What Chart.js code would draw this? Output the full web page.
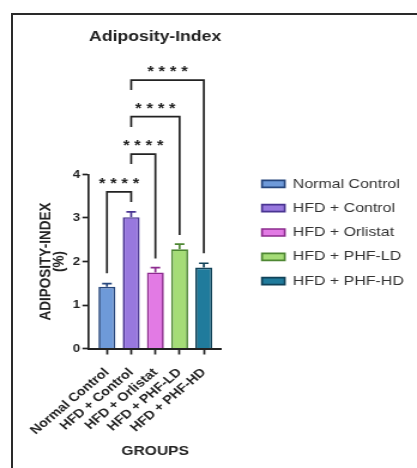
<!DOCTYPE html>
<html>
<head>
<meta charset="utf-8">
<script src="https://cdn.jsdelivr.net/npm/chart.js@4.4.1/dist/chart.umd.min.js"></script>
<style>
    html, body { margin: 0; padding: 0; background: #fff; }
    #wrap { position: relative; width: 417px; height: 468px; overflow: hidden; }
    #frame {
        position: absolute; left: 11px; top: 13px; width: 430px; height: 480px;
        border-left: 2px solid #2a2a2a; border-top: 2px solid #2a2a2a; pointer-events: none;
    }
    #adiposityChart { position: absolute; left: 0; top: 0; }
</style>
</head>
<body>
<div id="wrap">
    <!-- the figure is drawn narrower and shown stretched, like the source image -->
    <canvas id="adiposityChart" width="348" height="468" style="width: 417px; height: 468px;"></canvas>
    <div id="frame"></div>
</div>
<script>
// groups and values
const groups = ['Normal Control', 'HFD + Control', 'HFD + Orlistat', 'HFD + PHF-LD', 'HFD + PHF-HD'];
const means = [1.42, 3.02, 1.75, 2.28, 1.86];
const sems = [0.07, 0.12, 0.11, 0.12, 0.10];
const yTicks = [0, 1, 2, 3, 4];

const fills = ['#6e9ad9', '#9878de', '#e27ae4', '#a5dc77', '#207b9c'];
const edges = ['#27477d', '#4a3592', '#8d2c8f', '#4e8733', '#114258'];

// significance brackets (group indexes, y levels in % units)
const pairs = [[0, 1], [1, 2], [1, 3], [1, 4]];
const pairLevel = [3.60, 4.47, 5.33, 6.17];
const pairLeftEnd = [1.73, 4.24, 5.09, 5.94];
const pairRightEnd = [3.37, 2.07, 2.61, 2.19];
const pairStars = ['****', '****', '****', '****'];

const ink = '#222';
Chart.defaults.font.family = '"Liberation Sans", Arial, sans-serif';
Chart.defaults.color = ink;

const errorBars = {
    id: 'errorBars',
    afterDatasetsDraw(chart) {
        const {ctx, scales: {x, y}} = chart;
        ctx.save();
        ctx.lineWidth = 1.7;
        means.forEach((m, i) => {
            const px = x.getPixelForValue(i);
            const top = y.getPixelForValue(m + sems[i]);
            ctx.strokeStyle = edges[i];
            ctx.beginPath();
            ctx.moveTo(px, y.getPixelForValue(m));
            ctx.lineTo(px, top);
            ctx.moveTo(px - 4, top);
            ctx.lineTo(px + 4, top);
            ctx.stroke();
        });
        ctx.restore();
    },
};

const brackets = {
    id: 'brackets',
    afterDraw(chart) {
        const {ctx, scales: {x, y}} = chart;
        ctx.save();
        ctx.strokeStyle = ink;
        ctx.fillStyle = ink;
        ctx.lineWidth = 1.7;
        ctx.font = 'bold 14px "Liberation Sans", Arial, sans-serif';
        ctx.textAlign = 'center';
        ctx.textBaseline = 'alphabetic';
        if ('letterSpacing' in ctx) ctx.letterSpacing = '4px';
        pairs.forEach(([a, b], i) => {
            const xl = x.getPixelForValue(a);
            const xr = x.getPixelForValue(b);
            const yh = y.getPixelForValue(pairLevel[i]);
            ctx.beginPath();
            ctx.moveTo(xl, y.getPixelForValue(pairLeftEnd[i]));
            ctx.lineTo(xl, yh);
            ctx.lineTo(xr, yh);
            ctx.lineTo(xr, y.getPixelForValue(pairRightEnd[i]));
            ctx.stroke();
            ctx.fillText(pairStars[i], (xl + xr) / 2 + 2, yh - 4);
        });
        ctx.restore();
    },
};

const adiposityChart = new Chart(document.querySelector('#adiposityChart'), {
    type: 'bar',
    data: {
        datasets: groups.map((g, i) => ({
            label: g,
            data: [{x: i, y: means[i]}],
            backgroundColor: fills[i],
            borderColor: edges[i],
            borderWidth: 1.7,
            categoryPercentage: 1,
            barPercentage: 0.7,
            grouped: false,
        })),
    },
    options: {
        responsive: false,
        animation: false,
        layout: {
            padding: {top: 5, left: 20, bottom: 8, right: 1},
        },
        plugins: {
            tooltip: {enabled: false},
            title: {
                display: true,
                text: 'Adiposity-Index',
                fullSize: false,
                color: ink,
                font: {size: 15.5, weight: 'bold'},
                padding: {top: 22.2, bottom: 128.7},
            },
            legend: {
                position: 'right',
                align: 'center',
                maxWidth: 200,
                labels: {
                    boxWidth: 19,
                    boxHeight: 7,
                    padding: 11,
                    color: '#333',
                    font: {size: 13.3},
                },
            },
        },
        scales: {
            x: {
                type: 'linear',
                min: -0.74,
                max: 4.72,
                offset: false,
                afterFit(scale) {
                    scale.height = 111.5;
                },
                grid: {
                    offset: false,
                    drawOnChartArea: false,
                    tickLength: 6,
                    tickWidth: 1.7,
                    tickColor: ink,
                },
                border: {color: ink, width: 2},
                ticks: {
                    stepSize: 1,
                    includeBounds: false,
                    autoSkip: false,
                    minRotation: 45,
                    maxRotation: 45,
                    padding: 11,
                    color: ink,
                    font: {size: 12, weight: 'bold'},
                    callback: (v) => groups[v] ?? '',
                },
                title: {
                    display: true,
                    text: 'GROUPS',
                    color: ink,
                    font: {size: 13, weight: 'bold'},
                    padding: {top: 0, bottom: 0.5},
                },
            },
            y: {
                min: 0,
                max: 4,
                afterFit(scale) {
                    scale.width = 54.3;
                },
                grid: {
                    drawOnChartArea: false,
                    tickLength: 5.5,
                    tickWidth: 1.7,
                    tickColor: ink,
                },
                border: {color: ink, width: 1.7},
                afterBuildTicks(scale) {
                    scale.ticks = yTicks.map((v) => ({value: v}));
                },
                ticks: {
                    padding: 2,
                    color: ink,
                    font: {size: 11, weight: 'bold'},
                },
                title: {
                    display: true,
                    text: ['ADIPOSITY-INDEX', '(%)'],
                    color: ink,
                    font: {size: 13.5, weight: 'bold', lineHeight: 0.8},
                    padding: {top: 12.9, bottom: 0},
                },
            },
            y2: {
                type: 'linear',
                position: 'right',
                afterFit(scale) {
                    scale.width = 23;
                },
                grid: {display: false},
                border: {display: false},
                ticks: {display: false},
            },
        },
    },
    plugins: [errorBars, brackets],
});
</script>
</body>
</html>
